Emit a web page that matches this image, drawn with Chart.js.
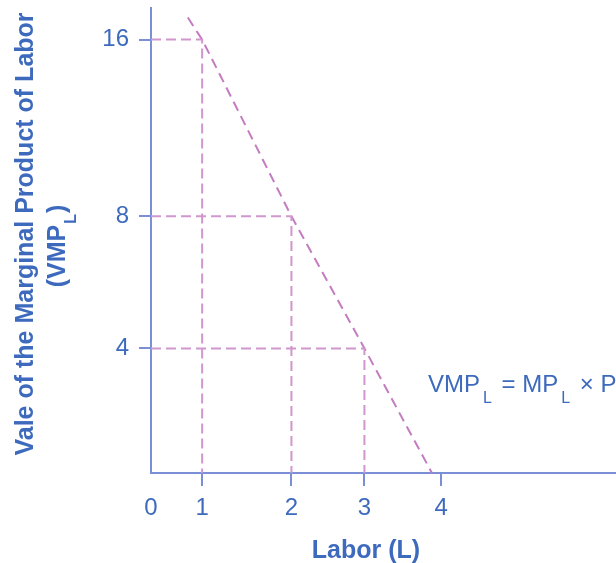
<!DOCTYPE html>
<html>
<head>
<meta charset="utf-8">
<script src="https://cdn.jsdelivr.net/npm/chart.js@4.4.1/dist/chart.umd.min.js"></script>
<style>
  html, body { margin: 0; padding: 0; background: #fff; }
  #wrap { width: 616px; height: 563px; }
</style>
</head>
<body>
<div id="wrap"><canvas id="myChart" width="616" height="563"></canvas></div>
<script>
// Labor units and their value of marginal product (the three marked points)
const labor = [1, 2, 3];
const vmp = [16, 8, 4];

// VMP_L demand line, read where it starts and where it meets the axis
const curveLabor = [0.72, 1, 2, 3, 3.88];
const curveVmp = [17, 16, 8, 4, 0];

// tick labels
const xTicks = [0, 1, 2, 3, 4];
const yTicks = [4, 8, 16];

// the axes in the picture are not evenly spaced, so each tick gets its place
// along the axis (fraction of the plot length)
const axisKnots = {
    x: { values: [0, 1, 2, 3, 4], fracs: [0, 0.110, 0.302, 0.459, 0.624] },
    y: { values: [0, 4, 8, 16], fracs: [0, 0.268, 0.552, 0.932] }
};

const axisBlue = "#7b8fd6";
const textBlue = "#3d6abd";
const guidePink = "#d096cd";
const linePink = "#c47cc1";
const FONT = "'Liberation Sans', Arial, sans-serif";

function valueToFrac(k, v) {
    const vs = k.values, fs = k.fracs;
    let i = 0;
    while (i < vs.length - 2 && v > vs[i + 1]) i++;
    return fs[i] + (v - vs[i]) * (fs[i + 1] - fs[i]) / (vs[i + 1] - vs[i]);
}

function fracToValue(k, f) {
    const vs = k.values, fs = k.fracs;
    let i = 0;
    while (i < fs.length - 2 && f > fs[i + 1]) i++;
    return vs[i] + (f - fs[i]) * (vs[i + 1] - vs[i]) / (fs[i + 1] - fs[i]);
}

// linear scale with piecewise spacing between the knots
class KnotScale extends Chart.LinearScale {
    static id = "knot";
    static defaults = Chart.LinearScale.defaults;
    getPixelForValue(value) {
        return this.getPixelForDecimal(valueToFrac(axisKnots[this.axis], value));
    }
    getValueForPixel(pixel) {
        return fracToValue(axisKnots[this.axis], this.getDecimalForPixel(pixel));
    }
}
Chart.register(KnotScale);

// dashed guides from each point to both axes
const guideSets = labor.map((l, i) => ({
    data: [{ x: 0, y: vmp[i] }, { x: l, y: vmp[i] }, { x: l, y: 0 }],
    borderColor: guidePink,
    borderWidth: 2,
    borderDash: [10, 5],
    pointRadius: 0,
    fill: false
}));

const curveSet = {
    data: curveLabor.map((l, i) => ({ x: l, y: curveVmp[i] })),
    borderColor: linePink,
    borderWidth: 2,
    borderDash: [10, 6],
    pointRadius: 0,
    fill: false
};

// text with a subscript L, drawn piece by piece
function drawSubText(ctx, parts, x, y, size, subSize, weight) {
    let cx = x;
    parts.forEach(p => {
        if (p.sub) {
            ctx.font = weight + " " + subSize + "px " + FONT;
            cx += p.gap || 0;
            ctx.fillText(p.text, cx, y + size * 0.45);
            cx += ctx.measureText(p.text).width + (p.gap || 0);
        } else {
            ctx.font = weight + " " + size + "px " + FONT;
            ctx.fillText(p.text, cx, y);
            cx += ctx.measureText(p.text).width;
        }
    });
    return cx - x;
}

function measureSubText(ctx, parts, size, subSize, weight) {
    let w = 0;
    parts.forEach(p => {
        ctx.font = weight + " " + (p.sub ? subSize : size) + "px " + FONT;
        w += ctx.measureText(p.text).width + 2 * (p.gap || 0);
    });
    return w;
}

const labelsPlugin = {
    id: "labels",
    afterDraw(chart) {
        const ctx = chart.ctx;
        ctx.save();
        ctx.fillStyle = textBlue;
        ctx.textBaseline = "alphabetic";
        ctx.textAlign = "left";

        // y axis title, two lines, rotated
        ctx.save();
        ctx.translate(33, 234);
        ctx.rotate(-Math.PI / 2);
        ctx.font = "bold 25px " + FONT;
        ctx.textAlign = "center";
        ctx.fillText("Vale of the Marginal Product of Labor", 0, 0);
        ctx.textAlign = "left";
        const line2 = [{ text: "(VMP" }, { text: "L", sub: true, gap: 1 }, { text: ")" }];
        const w2 = measureSubText(ctx, line2, 25, 16, "bold");
        drawSubText(ctx, line2, -w2 / 2 - 12, 32, 25, 16, "bold");
        ctx.restore();

        // x axis title
        ctx.font = "bold 25px " + FONT;
        ctx.textAlign = "center";
        ctx.fillText("Labor (L)", 366, 558);
        ctx.textAlign = "left";

        // curve label
        drawSubText(ctx, [
            { text: "VMP" }, { text: "L", sub: true, gap: 3 },
            { text: " = MP" }, { text: "L", sub: true, gap: 3 },
            { text: " \u00d7 P" }
        ], 428, 392, 24, 16, "normal");
        ctx.restore();
    }
};

const ctx = document.getElementById("myChart").getContext("2d");
new Chart(ctx, {
    type: "line",
    data: { datasets: [...guideSets, curveSet] },
    options: {
        responsive: false,
        animation: false,
        layout: { padding: { top: 8, right: 0, left: 0, bottom: 0 } },
        plugins: {
            legend: { display: false },
            tooltip: { enabled: false }
        },
        scales: {
            x: {
                type: "knot",
                min: 0,
                max: 4,
                afterFit: s => {
                    s.height = 90;
                    s.paddingLeft = 0;
                    s.paddingRight = 0;
                },
                afterBuildTicks: s => { s.ticks = xTicks.map(v => ({ value: v })); },
                grid: {
                    drawOnChartArea: false,
                    drawTicks: true,
                    tickLength: 13,
                    lineWidth: 2,
                    color: c => (c.tick && c.tick.value === 0 ? "rgba(0,0,0,0)" : axisBlue)
                },
                border: { display: true, color: axisBlue, width: 2 },
                ticks: {
                    autoSkip: false,
                    maxRotation: 0,
                    padding: 8,
                    color: textBlue,
                    font: { family: FONT, size: 24 }
                }
            },
            y: {
                type: "knot",
                min: 0,
                max: 16,
                afterFit: s => {
                    s.width = 151;
                    s.paddingTop = 0;
                    s.paddingBottom = 0;
                },
                afterBuildTicks: s => { s.ticks = yTicks.map(v => ({ value: v })); },
                grid: {
                    drawOnChartArea: false,
                    drawTicks: true,
                    tickLength: 12,
                    lineWidth: 2,
                    color: axisBlue
                },
                border: { display: true, color: axisBlue, width: 2 },
                ticks: {
                    autoSkip: false,
                    padding: 10,
                    color: textBlue,
                    font: { family: FONT, size: 24 }
                }
            }
        }
    },
    plugins: [labelsPlugin]
});
</script>
</body>
</html>
